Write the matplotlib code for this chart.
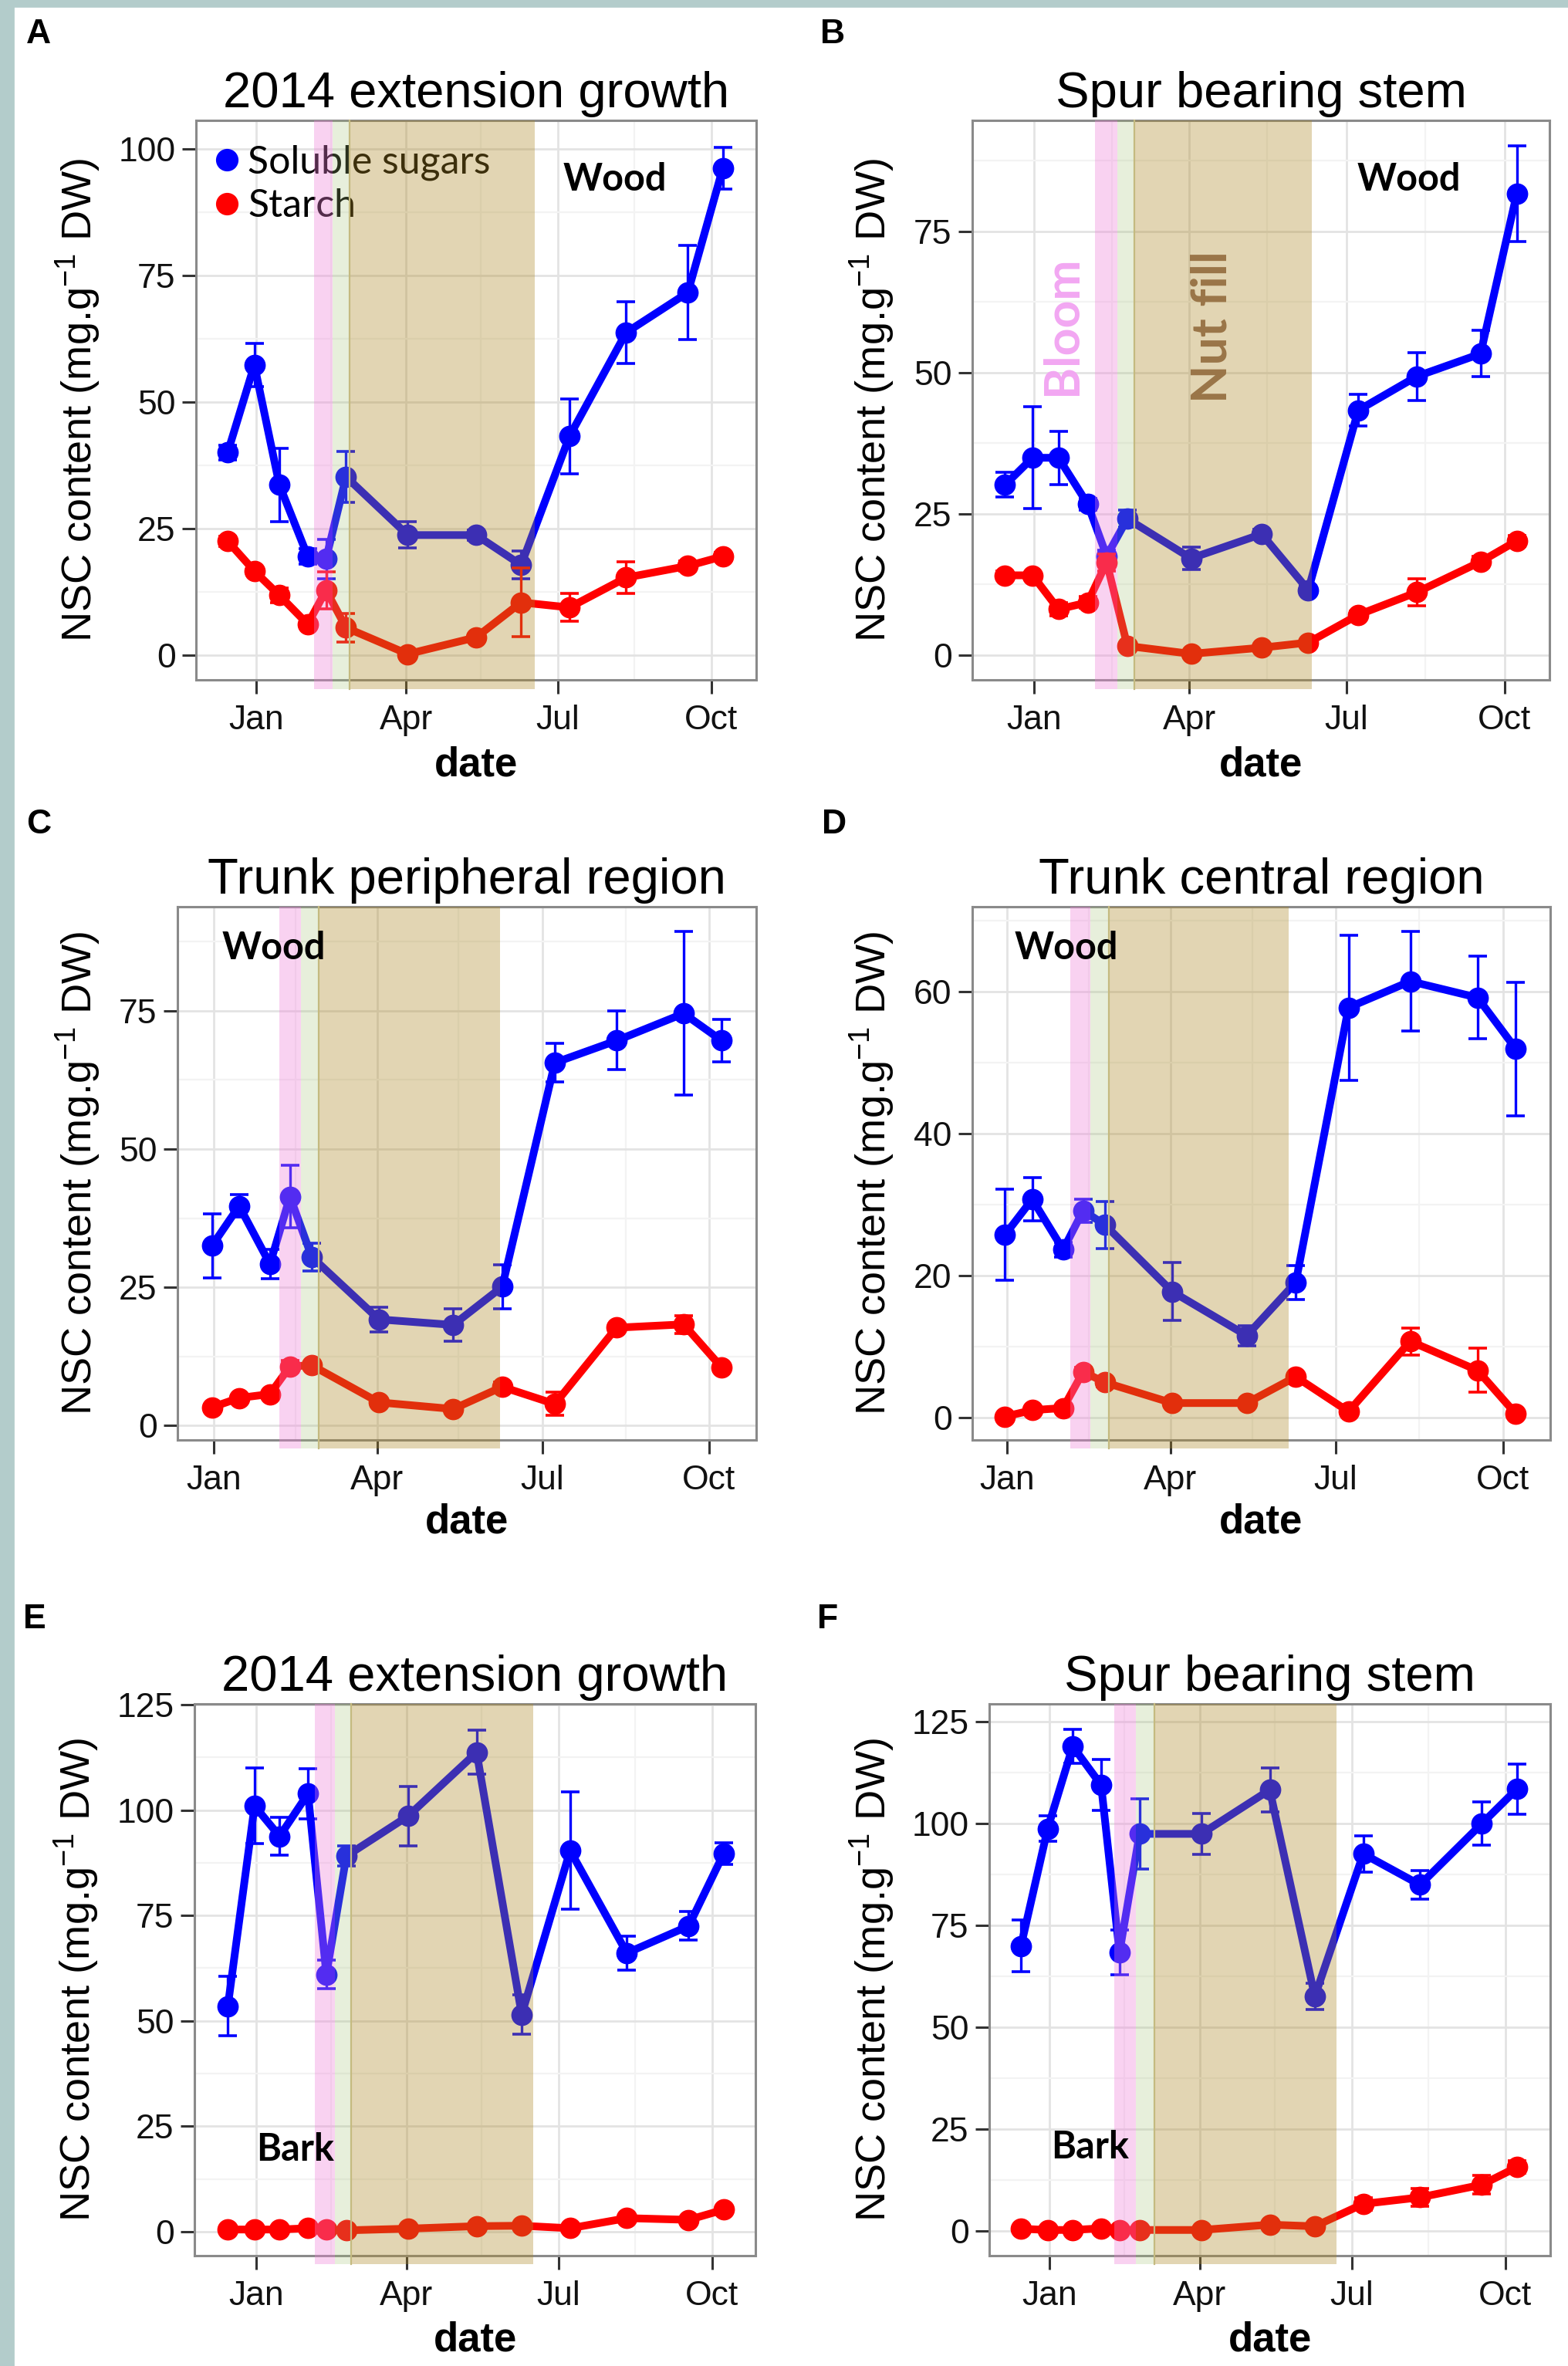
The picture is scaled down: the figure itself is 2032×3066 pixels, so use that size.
import matplotlib
matplotlib.use('Agg')
import matplotlib.pyplot as plt
import matplotlib.dates as mdates
from matplotlib.lines import Line2D
from matplotlib.patches import Rectangle
import numpy as np

plt.rcParams['font.family'] = ['Liberation Sans', 'DejaVu Sans']
plt.rcParams['mathtext.default'] = 'regular'

# sampling dates (12 for the trunk panels, which have no December point)
dates = ['2013-12-15', '2013-12-31', '2014-01-15', '2014-02-01', '2014-02-12',
         '2014-02-24', '2014-04-02', '2014-05-13', '2014-06-09', '2014-07-08',
         '2014-08-11', '2014-09-17', '2014-10-08']
dates_trunk = dates[1:]

# A: 2014 extension growth, wood
sugar_a = [40.0, 57.3, 33.6, 19.5, 19.0, 35.2, 23.7, 23.7, 17.8, 43.2, 63.7, 71.6, 96.2]
sugar_a_err = [1.5, 4.3, 7.3, 1.5, 3.9, 5.0, 2.6, 1.0, 2.8, 7.4, 6.1, 9.3, 4.1]
starch_a = [22.5, 16.6, 11.8, 6.1, 12.8, 5.4, 0.2, 3.5, 10.4, 9.4, 15.3, 17.6, 19.5]
starch_a_err = [1.0, 0.8, 1.5, 0.5, 3.7, 2.8, 0.5, 0.6, 6.8, 2.7, 3.1, 1.0, 0.7]

# B: spur bearing stem, wood
sugar_b = [30.1, 34.9, 34.9, 26.7, 17.5, 24.1, 17.1, 21.4, 11.5, 43.3, 49.3, 53.3, 81.6]
sugar_b_err = [2.2, 9.0, 4.7, 1.0, 1.0, 1.5, 2.0, 0.8, 0.8, 2.8, 4.2, 4.1, 8.5]
starch_b = [14.1, 14.1, 8.1, 9.3, 16.4, 1.6, 0.2, 1.3, 2.2, 7.1, 11.1, 16.5, 20.2]
starch_b_err = [0.8, 0.5, 1.2, 1.0, 1.5, 0.4, 0.3, 0.4, 0.4, 0.6, 2.4, 1.0, 1.0]

# C: trunk peripheral region, wood
sugar_c = [32.5, 39.7, 29.2, 41.4, 30.5, 19.2, 18.2, 25.1, 65.6, 69.6, 74.5, 69.6]
sugar_c_err = [5.8, 2.0, 2.6, 5.7, 2.5, 2.2, 2.9, 4.0, 3.5, 5.3, 14.8, 3.9]
starch_c = [3.3, 5.0, 5.7, 10.7, 10.9, 4.2, 3.0, 7.0, 3.9, 17.7, 18.3, 10.5]
starch_c_err = [0.4, 0.4, 0.5, 1.0, 0.4, 0.6, 0.4, 0.8, 2.1, 0.6, 1.6, 0.7]

# D: trunk central region, wood
sugar_d = [25.8, 30.8, 23.7, 29.2, 27.2, 17.8, 11.6, 19.1, 57.8, 61.5, 59.2, 52.0]
sugar_d_err = [6.4, 3.0, 1.0, 1.6, 3.3, 4.1, 1.4, 2.4, 10.2, 7.0, 5.8, 9.4]
starch_d = [0.2, 1.1, 1.4, 6.5, 5.0, 2.1, 2.1, 5.8, 0.9, 10.8, 6.7, 0.6]
starch_d_err = [0.3, 0.3, 0.3, 0.6, 0.6, 0.5, 0.5, 0.5, 0.3, 1.9, 3.1, 0.3]

# E: 2014 extension growth, bark
sugar_e = [53.5, 101.0, 93.8, 103.9, 61.0, 89.1, 98.6, 113.7, 51.5, 90.4, 66.1, 72.5, 89.7]
sugar_e_err = [7.0, 9.0, 4.5, 5.9, 3.4, 2.4, 7.0, 5.2, 4.6, 13.9, 4.0, 3.4, 2.5]
starch_e = [0.5, 0.5, 0.5, 0.8, 0.5, 0.3, 0.7, 1.3, 1.4, 0.8, 3.2, 2.8, 5.2]
starch_e_err = [0.3, 0.3, 0.3, 0.3, 0.3, 0.3, 0.3, 0.3, 0.3, 0.3, 0.5, 0.5, 0.6]

# F: spur bearing stem, bark
sugar_f = [69.9, 98.7, 118.9, 109.4, 68.3, 97.4, 97.4, 108.2, 57.5, 92.5, 84.9, 99.9, 108.4]
sugar_f_err = [6.4, 3.2, 4.1, 6.3, 5.5, 8.7, 5.0, 5.4, 3.2, 4.4, 3.5, 5.3, 6.2]
starch_f = [0.5, 0.2, 0.2, 0.6, 0.2, 0.2, 0.2, 1.5, 1.1, 6.6, 8.2, 11.3, 15.6]
starch_f_err = [0.3, 0.2, 0.2, 0.3, 0.2, 0.2, 0.2, 0.3, 0.3, 1.5, 2.2, 2.2, 1.5]

titles = ['2014 extension growth', 'Spur bearing stem', 'Trunk peripheral region',
          'Trunk central region', '2014 extension growth', 'Spur bearing stem']
letters = ['A', 'B', 'C', 'D', 'E', 'F']
tissue = ['Wood', 'Wood', 'Wood', 'Wood', 'Bark', 'Bark']

# bloom / (gap) / nut fill bands: pink start, pink end, green end, tan end
bands = [('2014-02-05', '2014-02-16', '2014-02-26', '2014-06-17'),
         ('2014-02-05', '2014-02-18', '2014-02-28', '2014-06-11'),
         ('2014-02-06', '2014-02-18', '2014-02-28', '2014-06-08'),
         ('2014-02-05', '2014-02-16', '2014-02-26', '2014-06-05'),
         ('2014-02-05', '2014-02-17', '2014-02-27', '2014-06-16'),
         ('2014-02-09', '2014-02-22', '2014-03-05', '2014-06-22')]

xlims = [('2013-11-26', '2014-10-28'), ('2013-11-26', '2014-10-27'),
         ('2013-12-12', '2014-10-27'), ('2013-12-13', '2014-10-27'),
         ('2013-11-25', '2014-10-27'), ('2013-11-26', '2014-10-28')]
ylims = [(-4.9, 105.6), (-4.4, 94.6), (-2.6, 93.8), (-3.1, 72.0), (-5.7, 125.2), (-6.1, 129.3)]
yticks = [[0, 25, 50, 75, 100], [0, 25, 50, 75], [0, 25, 50, 75], [0, 20, 40, 60],
          [0, 25, 50, 75, 100, 125], [0, 25, 50, 75, 100, 125]]

series = [(sugar_a, sugar_a_err, starch_a, starch_a_err),
          (sugar_b, sugar_b_err, starch_b, starch_b_err),
          (sugar_c, sugar_c_err, starch_c, starch_c_err),
          (sugar_d, sugar_d_err, starch_d, starch_d_err),
          (sugar_e, sugar_e_err, starch_e, starch_e_err),
          (sugar_f, sugar_f_err, starch_f, starch_f_err)]

W, H = 2032, 3066
# axes boxes in pixels: left, top, right, bottom
boxes = [(254, 156, 980, 881), (1260, 156, 2008, 881),
         (230, 1175, 980, 1866), (1260, 1175, 2009, 1866),
         (252, 2208, 979, 2923), (1282, 2208, 2009, 2923)]
letter_pos = [(50, 45), (1079, 45), (50, 1068), (1081, 1068), (45, 2099), (1073, 2099)]
ylabel_x = [-0.167, -0.131, -0.129, -0.131, -0.166, -0.165]
tissue_pos = [(0.748, 0.894), (0.757, 0.895), (0.167, 0.923), (0.163, 0.923),
              (0.18, 0.192), (0.18, 0.197)]

fig = plt.figure(figsize=(W / 200, H / 200), dpi=200)
fig.add_artist(Rectangle((0, 0), 17 / W, 1, transform=fig.transFigure,
                         color='#b3cccb', zorder=0))
fig.add_artist(Rectangle((0, 1 - 8 / H), 1, 8 / H, transform=fig.transFigure,
                         color='#b3cccb', zorder=0))

d2n = lambda s: mdates.datestr2num(s)

for i in range(6):
    l, t, r, b = boxes[i]
    ax = fig.add_axes([l / W, 1 - b / H, (r - l) / W, (b - t) / H])
    x = [d2n(d) for d in (dates if len(series[i][0]) == 13 else dates_trunk)]
    sug, sug_e, sta, sta_e = series[i]

    ax.errorbar(x, sug, yerr=sug_e, fmt='none', ecolor='#0000ff', elinewidth=1.2,
                capsize=4.3, capthick=1.3, zorder=2)
    ax.plot(x, sug, '-o', color='#0000ff', lw=3.6, ms=9, zorder=2.5)
    ax.errorbar(x, sta, yerr=sta_e, fmt='none', ecolor='#ff0000', elinewidth=1.2,
                capsize=4.3, capthick=1.3, zorder=2.6)
    ax.plot(x, sta, '-o', color='#ff0000', lw=3.6, ms=9, zorder=2.7)

    p0, p1, g1, t1 = [d2n(s) for s in bands[i]]
    ax.axvspan(p0, p1, ymin=-0.016, ymax=1, color='#f080d8', alpha=0.35, lw=0,
               clip_on=False, zorder=4)
    ax.axvspan(p1, g1, ymin=-0.016, ymax=1, color='#a0c070', alpha=0.25, lw=0,
               clip_on=False, zorder=4)
    ax.axvspan(g1, t1, ymin=-0.016, ymax=1, color='#ae8925', alpha=0.35, lw=0,
               clip_on=False, zorder=4)
    ax.axvline(g1, ymin=-0.016, ymax=1, color='#c4ba80', lw=0.8, clip_on=False, zorder=4)

    ax.set_xlim(d2n(xlims[i][0]), d2n(xlims[i][1]))
    ax.set_ylim(*ylims[i])
    ax.set_yticks(yticks[i])
    step = yticks[i][1] - yticks[i][0]
    ax.set_yticks(np.arange(step / 2, ylims[i][1], step), minor=True)
    ax.set_xticks([d2n(s) for s in ['2014-01-01', '2014-04-01', '2014-07-01', '2014-10-01']])
    ax.set_xticklabels(['Jan', 'Apr', 'Jul', 'Oct'])
    ax.set_xticks([d2n(s) for s in ['2014-02-15', '2014-05-16', '2014-08-16']], minor=True)

    ax.set_axisbelow(True)
    ax.grid(which='major', color='#e3e3e3', lw=1.0)
    ax.grid(which='minor', color='#f3f3f3', lw=0.8)
    for s in ax.spines.values():
        s.set_color('#8a8a8a')
        s.set_linewidth(1.1)
    ax.tick_params(which='major', length=6.5, width=1.1, color='#333333',
                   labelsize=16, labelcolor='#111111')
    ax.tick_params(axis='x', which='major', pad=5)
    ax.tick_params(axis='y', which='major', pad=3)
    ax.tick_params(which='minor', length=0)

    ax.set_title(titles[i], fontsize=23.5, pad=6)
    ax.set_ylabel('NSC content (mg.g$^{-1}$ DW)', fontsize=19.5)
    ax.yaxis.set_label_coords(ylabel_x[i], 0.5)
    ax.set_xlabel('date', fontsize=19, fontweight='bold')
    ax.xaxis.set_label_coords(0.5, -0.118)
    ax.xaxis.label.set_va('top')

    ax.text(tissue_pos[i][0], tissue_pos[i][1], tissue[i], transform=ax.transAxes,
            ha='center', va='center', family='Lato', fontweight='bold', fontsize=17.5,
            zorder=6)
    fig.text(letter_pos[i][0] / W, 1 - letter_pos[i][1] / H, letters[i],
             ha='center', va='center', fontsize=16, fontweight='bold')

    if i == 0:
        handles = [Line2D([], [], ls='none', marker='o', ms=9.5, color='#0000ff'),
                   Line2D([], [], ls='none', marker='o', ms=9.5, color='#ff0000')]
        leg = ax.legend(handles, ['Soluble sugars', 'Starch'], loc='upper left',
                        bbox_to_anchor=(0.034, 0.956), frameon=False,
                        prop={'family': 'Lato', 'size': 18}, handlelength=0.6,
                        handletextpad=0.25, labelspacing=0.2, borderaxespad=0,
                        borderpad=0)
        leg.set_zorder(3)
    if i == 1:
        ax.text(0.156, 0.634, 'Bloom', transform=ax.transAxes, rotation=90,
                ha='center', va='center', family='Lato', fontweight='bold',
                fontsize=22.5, color='#f2a7f2', zorder=6)
        ax.text(0.416, 0.631, 'Nut fill', transform=ax.transAxes, rotation=90,
                ha='center', va='center', family='Lato', fontweight='bold',
                fontsize=23.2, color='#9a7548', zorder=6)

fig.savefig('out.png', dpi=200)
